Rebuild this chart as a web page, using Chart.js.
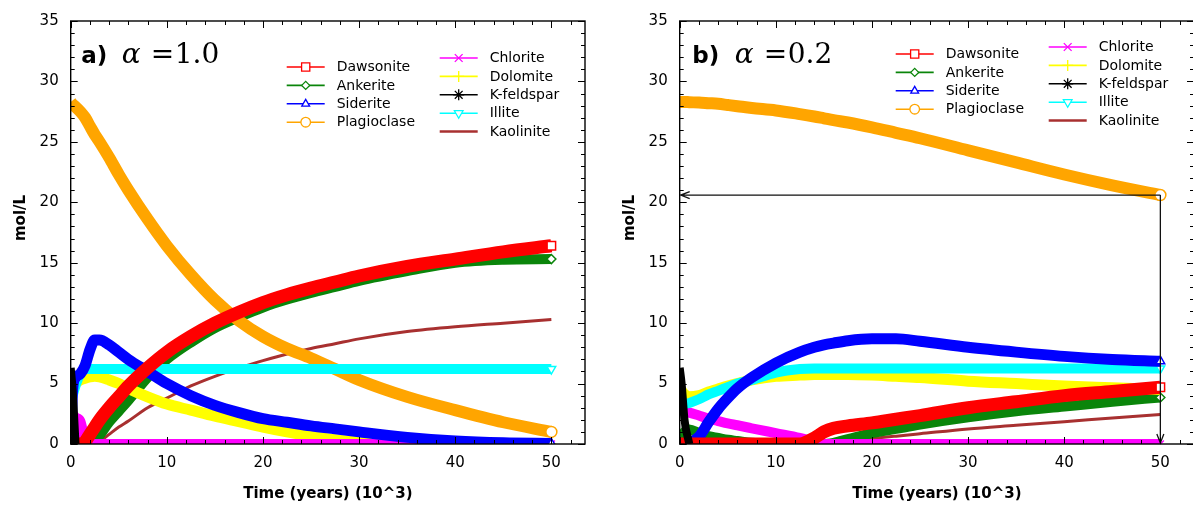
<!DOCTYPE html>
<html>
<head>
<meta charset="utf-8">
<script src="https://cdn.jsdelivr.net/npm/chart.js@4.4.1/dist/chart.umd.min.js"></script>
<style>
  html, body { margin: 0; padding: 0; background: #fff; overflow: hidden; }
  body { width: 1193px; height: 507px; position: relative; }
  canvas { position: absolute; top: 0; }
  #panelA { left: 0; }
  #panelB { left: 609px; }
</style>
</head>
<body>
<canvas id="panelA" width="597" height="507"></canvas>
<canvas id="panelB" width="597" height="507"></canvas>
<script>
// ---- series description (legend order) ----
const seriesNames = ["Dawsonite", "Ankerite", "Siderite", "Plagioclase",
  "Chlorite", "Dolomite", "K-feldspar", "Illite", "Kaolinite"];
const seriesColors = ["#ff0000", "#0a850a", "#0000ff", "#ffa500",
  "#ff00ff", "#ffff00", "#000000", "#00ffff", "#a83030"];

// ---- tick labels ----
const xTickValues = [0, 10, 20, 30, 40, 50];
const yTickValues = [0, 5, 10, 15, 20, 25, 30, 35];

// ---- panel a) alpha = 1.0, time in 10^3 years ----
const timesA = [0, 0.2, 0.5, 1, 1.5, 2, 2.5, 3, 4, 5, 6, 8, 10, 12.5, 15, 17.5, 20, 22.5, 25, 27.5, 30, 35, 40, 45, 50];
const dawsoniteA   = [0, 0, 0, 0, 0.2, 0.8, 1.4, 2.0, 3.0, 3.9, 4.8, 6.3, 7.6, 8.9, 10.0, 10.9, 11.7, 12.35, 12.9, 13.4, 13.9, 14.7, 15.3, 15.9, 16.4];
const ankeriteA    = [1.5, 1.4, 1.2, 0.1, 0, 0, 0.3, 0.7, 1.8, 2.7, 3.6, 5.5, 7.0, 8.4, 9.6, 10.5, 11.3, 11.95, 12.5, 13.0, 13.5, 14.3, 15.0, 15.25, 15.3];
const sideriteA    = [0, 4.5, 5.5, 5.8, 6.5, 7.8, 8.6, 8.6, 8.2, 7.6, 7.0, 6.0, 5.0, 4.0, 3.2, 2.6, 2.1, 1.8, 1.5, 1.25, 1.0, 0.55, 0.25, 0.1, 0.05];
const plagioclaseA = [28.3, 28.1, 27.9, 27.5, 27.0, 26.3, 25.6, 25.0, 23.7, 22.3, 21.0, 18.6, 16.4, 14.0, 11.9, 10.2, 8.9, 7.9, 7.1, 6.2, 5.3, 3.9, 2.8, 1.8, 1.0];
const chloriteA    = [2.6, 2.5, 2.2, 1.9, 0.3, 0, 0, 0, 0, 0, 0, 0, 0, 0, 0, 0, 0, 0, 0, 0, 0, 0, 0, 0, 0];
const dolomiteA    = [4.3, 4.6, 5.0, 5.3, 5.45, 5.55, 5.6, 5.55, 5.3, 5.0, 4.6, 3.9, 3.3, 2.8, 2.3, 1.85, 1.4, 1.0, 0.65, 0.35, 0.15, 0, 0, 0, 0];
const kfeldsparA   = [6.3, 4.5, 0, null, null, null, null, null, null, null, null, null, null, null, null, null, null, null, null, null, null, null, null, null, null];
const illiteA      = [3.5, 4.0, 4.8, 5.8, 6.2, 6.2, 6.2, 6.2, 6.2, 6.2, 6.2, 6.2, 6.2, 6.2, 6.2, 6.2, 6.2, 6.2, 6.2, 6.2, 6.2, 6.2, 6.2, 6.2, 6.2];
const kaoliniteA   = [0, 0, 0, 0, 0, 0, 0.05, 0.2, 0.8, 1.4, 1.9, 3.0, 3.8, 4.8, 5.6, 6.3, 6.9, 7.45, 7.9, 8.3, 8.7, 9.3, 9.7, 10.0, 10.3];

// ---- panel b) alpha = 0.2 ----
const timesB = [0, 0.2, 0.5, 1, 2, 3, 4, 5, 6, 7.5, 10, 12.5, 14, 15, 16, 17.5, 20, 22.5, 25, 30, 35, 40, 45, 50];
const dawsoniteB   = [0, 0, 0, 0, 0, 0, 0, 0, 0, 0, 0, 0, 0.5, 1.0, 1.3, 1.5, 1.75, 2.05, 2.35, 3.0, 3.5, 4.0, 4.35, 4.7];
const ankeriteB    = [0, 0.6, 1.0, 1.2, 0.9, 0.65, 0.5, 0.35, 0.25, 0.1, 0, 0, 0, 0, 0.1, 0.4, 0.9, 1.25, 1.6, 2.2, 2.7, 3.1, 3.5, 3.85];
const sideriteB    = [0, 0, 0.05, 0.1, 0.6, 1.8, 2.9, 3.8, 4.6, 5.5, 6.7, 7.6, 8.0, 8.2, 8.35, 8.55, 8.7, 8.7, 8.5, 8.0, 7.6, 7.25, 7.0, 6.85];
const plagioclaseB = [28.3, 28.3, 28.3, 28.28, 28.25, 28.2, 28.15, 28.05, 27.95, 27.8, 27.6, 27.3, 27.1, 26.95, 26.8, 26.6, 26.2, 25.75, 25.3, 24.3, 23.3, 22.3, 21.4, 20.6];
const chloriteB    = [2.8, 2.75, 2.7, 2.6, 2.35, 2.1, 1.9, 1.7, 1.55, 1.3, 0.9, 0.5, 0.2, 0, 0, 0, 0, 0, 0, 0, 0, 0, 0, 0];
const dolomiteB    = [4.6, 4.4, 4.1, 3.9, 4.0, 4.3, 4.55, 4.8, 5.0, 5.3, 5.6, 5.7, 5.75, 5.75, 5.75, 5.75, 5.7, 5.6, 5.5, 5.2, 5.0, 4.8, 4.65, 4.5];
const kfeldsparB   = [6.3, 5.0, 2.0, 0, null, null, null, null, null, null, null, null, null, null, null, null, null, null, null, null, null, null, null, null];
const illiteB      = [3.0, 3.2, 3.3, 3.4, 3.7, 4.1, 4.4, 4.7, 5.0, 5.3, 5.9, 6.2, 6.25, 6.25, 6.25, 6.25, 6.25, 6.25, 6.25, 6.25, 6.25, 6.25, 6.25, 6.25];
const kaoliniteB   = [0, 0, 0, 0, 0, 0, 0, 0, 0, 0, 0, 0, 0, 0.05, 0.12, 0.25, 0.45, 0.65, 0.85, 1.25, 1.55, 1.85, 2.15, 2.45];

// arrow in panel b: from the Plagioclase end value back to the axes
const arrowTimeB = 50;
const arrowValueB = 20.6;

/*
 * marker / line styles
 */
const markerStyles = ["rect", "rectRot", "triangle", "circle", "crossRot", "cross", "star", "triangle", false];
const markerRotations = [0, 0, 0, 0, 0, 0, 0, 180, 0];
const endRadius = [6, 4.5, 5, 5.5, 5, 5, 5, 5, 0];
const legendRadius = [5.8, 4, 4.5, 4.8, 5.5, 5.5, 5.5, 5, 0];
const bandWidths = [13, 10, 11, 12, 10, 11, 8, 10, 3];
// 0 = drawn on top
const layerOrder = [1, 7, 2, 4, 5, 6, 0, 3, 8];

const FONT = '"DejaVu Sans", sans-serif';

function toPoints(times, values) {
  return times.map((t, i) => ({ x: t, y: values[i] }));
}

/*
 * frame, tick marks, panel label, y title, legend, arrows
 */
const decorPlugin = {
  id: "decor",
  afterDatasetsDraw(chart, args, opts) {
    const { ctx, chartArea: a, scales: { x, y } } = chart;
    ctx.save();

    // arrows (panel b)
    if (opts.arrow) {
      const px = x.getPixelForValue(opts.arrow.x);
      const py = y.getPixelForValue(opts.arrow.y);
      const x0 = x.getPixelForValue(0) + 1;
      const y0 = y.getPixelForValue(0) - 1;
      ctx.strokeStyle = "#111";
      ctx.lineWidth = 1.3;
      ctx.beginPath();
      ctx.moveTo(px, py); ctx.lineTo(x0, py);
      ctx.moveTo(x0 + 9, py - 3.5); ctx.lineTo(x0, py); ctx.lineTo(x0 + 9, py + 3.5);
      ctx.moveTo(px, py); ctx.lineTo(px, y0);
      ctx.moveTo(px - 3.5, y0 - 9); ctx.lineTo(px, y0); ctx.lineTo(px + 3.5, y0 - 9);
      ctx.stroke();
    }

    // frame
    ctx.strokeStyle = "#000";
    ctx.lineWidth = 1.4;
    ctx.strokeRect(a.left, a.top, a.right - a.left, a.bottom - a.top);

    // tick marks, inward on all four sides
    ctx.lineWidth = 1;
    ctx.beginPath();
    for (let v = 0; v <= x.max; v += 2) {
      const px = Math.round(x.getPixelForValue(v)) + 0.5;
      const len = xTickValues.includes(v) ? 7 : 4;
      ctx.moveTo(px, a.bottom); ctx.lineTo(px, a.bottom - len);
      ctx.moveTo(px, a.top); ctx.lineTo(px, a.top + len);
    }
    for (let v = 0; v <= y.max; v += 1) {
      const py = Math.round(y.getPixelForValue(v)) + 0.5;
      const len = yTickValues.includes(v) ? 7 : 4;
      ctx.moveTo(a.left, py); ctx.lineTo(a.left + len, py);
      ctx.moveTo(a.right, py); ctx.lineTo(a.right - len, py);
    }
    ctx.stroke();

    // y axis title
    ctx.fillStyle = "#000";
    ctx.save();
    ctx.translate(21, 218);
    ctx.rotate(-Math.PI / 2);
    ctx.textAlign = "center";
    ctx.textBaseline = "middle";
    ctx.font = "bold 15px " + FONT;
    ctx.fillText("mol/L", 0, 0);
    ctx.restore();

    // panel label  e.g.  a) α = 1.0
    const t = opts.title;
    const base = a.top + 42;
    ctx.textBaseline = "alphabetic";
    ctx.textAlign = "left";
    ctx.font = "bold 23px " + FONT;
    ctx.fillText(t.tag, a.left + t.dx[0], base);
    ctx.font = 'italic 28px "DejaVu Serif", serif';
    ctx.fillText("α", a.left + t.dx[1], base);
    ctx.font = '28px "DejaVu Serif", serif';
    ctx.fillText("=", a.left + t.dx[2], base);
    ctx.fillText(t.value, a.left + t.dx[3], base);

    // legend, two columns inside the plot
    const lg = opts.legend;
    const rowH = 18.4;
    ctx.font = "14px " + FONT;
    ctx.textBaseline = "middle";
    seriesNames.forEach((name, i) => {
      const col = i < 4 ? 0 : 1;
      const row = col === 0 ? i : i - 4;
      const lx = a.left + (col === 0 ? 216 : 369);
      const ly = a.top + (col === 0 ? lg.left : lg.right) + row * rowH;
      ctx.strokeStyle = seriesColors[i];
      ctx.lineWidth = i === 8 ? 2.5 : 1.6;
      ctx.beginPath();
      ctx.moveTo(lx, ly); ctx.lineTo(lx + 38, ly);
      ctx.stroke();
      if (markerStyles[i]) {
        ctx.fillStyle = "#fff";
        ctx.lineWidth = 1.3;
        Chart.helpers.drawPoint(ctx, {
          pointStyle: markerStyles[i], rotation: markerRotations[i],
          radius: legendRadius[i], borderWidth: 1.3
        }, lx + 19, ly);
      }
      ctx.fillStyle = "#000";
      ctx.fillText(name, lx + 50, ly + 0.5);
    });

    ctx.restore();
  }
};

function makePanel(canvasId, times, values, opts) {
  const datasets = seriesNames.map((name, i) => ({
    label: name,
    data: toPoints(times, values[i]),
    borderColor: seriesColors[i],
    backgroundColor: seriesColors[i],
    borderWidth: bandWidths[i],
    borderJoinStyle: "round",
    cubicInterpolationMode: "monotone",
    fill: false,
    spanGaps: false,
    clip: 0,
    order: layerOrder[i],
    pointStyle: markerStyles[i] || "circle",
    pointRotation: markerRotations[i],
    pointRadius: c => (markerStyles[i] && c.dataIndex === times.length - 1) ? endRadius[i] : 0,
    pointBackgroundColor: "#fff",
    pointBorderColor: seriesColors[i],
    pointBorderWidth: 1.5
  }));

  return new Chart(document.getElementById(canvasId), {
    type: "line",
    data: { datasets },
    plugins: [decorPlugin],
    options: {
      responsive: false,
      animation: false,
      events: [],
      layout: { padding: { top: 19.3, right: 12, bottom: 0, left: 0 } },
      plugins: {
        legend: { display: false },
        tooltip: { enabled: false },
        decor: opts
      },
      scales: {
        x: {
          type: "linear", min: 0, max: 53.5,
          grid: { display: false, drawTicks: false },
          border: { display: false },
          afterBuildTicks: s => { s.ticks = xTickValues.map(v => ({ value: v })); },
          afterFit: s => { s.height = 63; },
          ticks: { padding: 10, color: "#000", maxRotation: 0, font: { family: FONT, size: 15 } },
          title: {
            display: true, text: "Time (years) (10^3)", color: "#000",
            font: { family: FONT, size: 15, weight: "bold" }, padding: { top: 4, bottom: 4 }
          }
        },
        y: {
          min: 0, max: 35,
          grid: { display: false, drawTicks: false },
          border: { display: false },
          afterBuildTicks: s => { s.ticks = yTickValues.map(v => ({ value: v })); },
          afterFit: s => { s.width = 70.7; },
          ticks: { padding: 12, color: "#000", font: { family: FONT, size: 15 } }
        }
      }
    }
  });
}

makePanel("panelA", timesA,
  [dawsoniteA, ankeriteA, sideriteA, plagioclaseA, chloriteA, dolomiteA, kfeldsparA, illiteA, kaoliniteA],
  { title: { tag: "a)", value: "1.0", dx: [10.5, 51, 80, 104] }, legend: { left: 46, right: 37 } });

makePanel("panelB", timesB,
  [dawsoniteB, ankeriteB, sideriteB, plagioclaseB, chloriteB, dolomiteB, kfeldsparB, illiteB, kaoliniteB],
  { title: { tag: "b)", value: "0.2", dx: [12.5, 55, 84, 108] }, legend: { left: 33, right: 26 },
    arrow: { x: arrowTimeB, y: arrowValueB } });
</script>
</body>
</html>
